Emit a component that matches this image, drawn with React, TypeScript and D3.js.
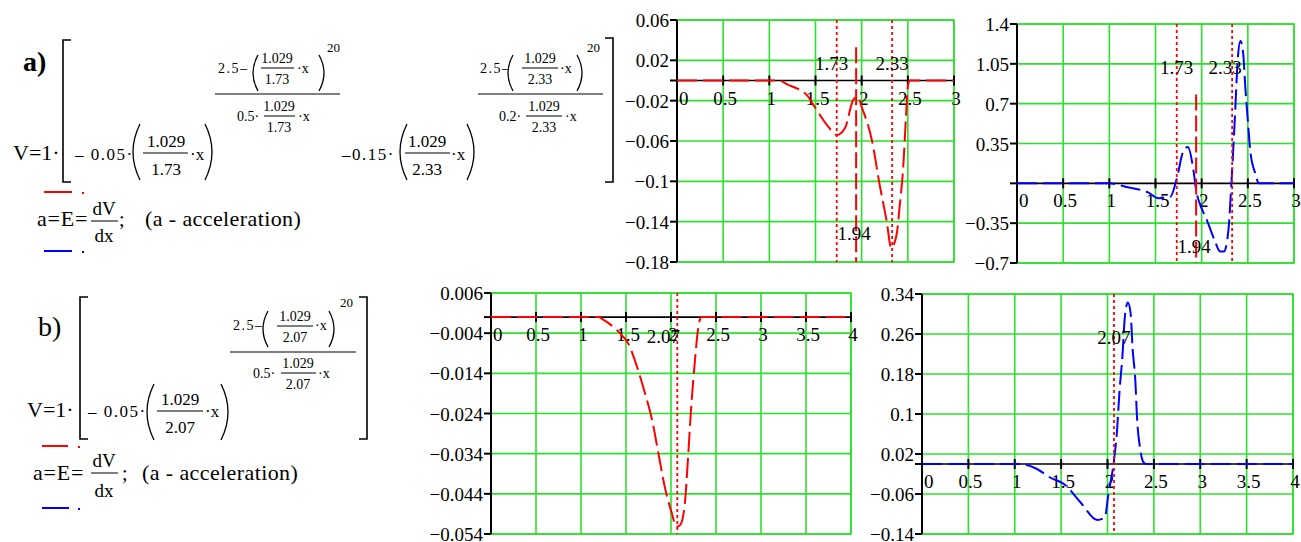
import React from "react";
import * as d3 from "d3";

const SERIF = "'Liberation Serif', 'Times New Roman', serif";
const GRID = "#2de02d";

// x ticks of the two chart widths
const xTicksA = [0, 0.5, 1, 1.5, 2, 2.5, 3];
const xTicksB = [0, 0.5, 1, 1.5, 2, 2.5, 3, 3.5, 4];

// y ticks (labelled gridlines) for each chart
const yTicksVelA = [0.06, 0.02, -0.02, -0.06, -0.1, -0.14, -0.18];
const yTicksAccA = [1.4, 1.05, 0.7, 0.35, -0.35, -0.7];
const yTicksVelB = [0.006, -0.004, -0.014, -0.024, -0.034, -0.044, -0.054];
const yTicksAccB = [0.34, 0.26, 0.18, 0.1, 0.02, -0.06, -0.14];

// traces, [x, value]
const velocityA = [
  [0, 0], [1.1, 0], [1.2, -0.004], [1.42, -0.016], [1.49, -0.026], [1.64, -0.046],
  [1.73, -0.054], [1.82, -0.047], [1.91, -0.019], [1.96, -0.016], [2.0, -0.026],
  [2.11, -0.059], [2.2, -0.106], [2.27, -0.139], [2.32, -0.166], [2.38, -0.152],
  [2.41, -0.126], [2.45, -0.086], [2.48, -0.036], [2.5, -0.006], [2.52, 0], [3, 0],
];
const accelA = [
  [0, 0], [1.0, 0], [1.2, -0.035], [1.42, -0.08], [1.53, -0.13], [1.66, -0.12],
  [1.73, 0.04], [1.8, 0.28], [1.85, 0.32], [1.91, 0.12], [1.94, -0.06], [1.99, -0.2],
  [2.05, -0.31], [2.14, -0.5], [2.2, -0.6], [2.24, -0.6], [2.29, -0.41], [2.32, -0.03],
  [2.36, 0.58], [2.39, 1.08], [2.42, 1.25], [2.45, 1.14], [2.47, 0.88], [2.5, 0.55],
  [2.53, 0.26], [2.58, 0.09], [2.62, 0], [3, 0],
];
const velocityB = [
  [0, 0], [1.2, 0], [1.23, -0.0004], [1.41, -0.0035], [1.53, -0.0068], [1.62, -0.0122],
  [1.71, -0.0189], [1.79, -0.0256], [1.86, -0.0339], [1.93, -0.0422], [2.01, -0.0489],
  [2.06, -0.0522], [2.1, -0.0518], [2.15, -0.0472], [2.19, -0.0348], [2.22, -0.0239],
  [2.27, -0.0098], [2.3, -0.0031], [2.34, 0], [4, 0],
];
const accelB = [
  [0, 0], [1.05, 0], [1.24, -0.01], [1.38, -0.027], [1.53, -0.04], [1.71, -0.077],
  [1.89, -0.112], [1.97, -0.107], [2.01, -0.06], [2.07, 0.007], [2.1, 0.06],
  [2.13, 0.147], [2.16, 0.213], [2.19, 0.3], [2.22, 0.323], [2.25, 0.3], [2.27, 0.233],
  [2.3, 0.167], [2.32, 0.087], [2.35, 0.033], [2.39, 0.003], [2.42, 0], [4, 0],
];

// vertical markers
const markersA = [1.73, 2.33];
const markersB = [2.07];
const crossA = 1.94;
const crossTopVelA = 0.033;
const crossTopAccA = 0.78;

const fmt = (v: number) => String(v).replace("-", "\u2212");

type Box = { left: number; right: number; top: number; bottom: number };

function Plot(props: {
  box: Box;
  xMax: number;
  yDomain: [number, number];
  xTicks: number[];
  yTicks: number[];
  trace: number[][];
  color: string;
  markers: number[];
  markerDx: number[];
  cross?: number;
  crossTop?: number;
  crossLabelY?: number;
}) {
  const { box, xMax, yDomain, xTicks, yTicks, trace, color, markers, markerDx } = props;
  const x = d3.scaleLinear().domain([0, xMax]).range([box.left, box.right]);
  const y = d3.scaleLinear().domain(yDomain).range([box.bottom, box.top]);
  const line = d3
    .line<number[]>()
    .x((d) => x(d[0]))
    .y((d) => y(d[1]))
    .curve(d3.curveMonotoneX);
  const y0 = y(0);
  const inner = xTicks.filter((t) => t > 0);

  return (
    <g style={{ fontFamily: SERIF }} fontSize={19} fill="#000">
      {inner.map((t) => (
        <line key={"gx" + t} x1={x(t)} x2={x(t)} y1={box.top} y2={box.bottom} stroke={GRID} strokeWidth={1.6} />
      ))}
      {yTicks.map((t) => (
        <line key={"gy" + t} x1={box.left} x2={box.right} y1={y(t)} y2={y(t)} stroke={GRID} strokeWidth={1.6} />
      ))}
      <rect x={box.left} y={box.top} width={box.right - box.left} height={box.bottom - box.top} fill="none" stroke={GRID} strokeWidth={1.6} />

      <line x1={box.left} x2={box.left} y1={box.top} y2={box.bottom} stroke="#000" strokeWidth={2} />
      <line x1={box.left} x2={box.right} y1={y0} y2={y0} stroke="#000" strokeWidth={1.6} />
      {[...yTicks, 0].map((t) => (
        <line key={"ty" + t} x1={box.left - 7} x2={box.left} y1={y(t)} y2={y(t)} stroke="#000" strokeWidth={2} />
      ))}
      {inner.map((t) => (
        <line key={"tx" + t} x1={x(t)} x2={x(t)} y1={y0 - 5} y2={y0 + 5} stroke="#000" strokeWidth={2} />
      ))}

      {yTicks.map((t) => (
        <text key={"ly" + t} x={box.left - 8} y={y(t) + 7} textAnchor="end">{fmt(t)}</text>
      ))}
      {xTicks.map((t) => (
        <text key={"lx" + t} x={x(t) + 2} y={y0 + 24} textAnchor={t === 0 ? "start" : "middle"}>{fmt(t)}</text>
      ))}

      <path d={line(trace) || ""} fill="none" stroke={color} strokeWidth={2} strokeDasharray="20,6" />

      {markers.map((m, i) => (
        <g key={"m" + m}>
          <line x1={x(m)} x2={x(m)} y1={box.top} y2={box.bottom} stroke="#ff0000" strokeWidth={1.8} strokeDasharray="3,3" />
          <text x={x(m) + markerDx[i]} y={box.top + 50} textAnchor="middle">{String(m)}</text>
        </g>
      ))}
      {props.cross !== undefined && (
        <g>
          <line x1={x(props.cross)} x2={x(props.cross)} y1={y(props.crossTop || 0)} y2={box.bottom} stroke="#ff0000" strokeWidth={2} strokeDasharray="16,5" />
          <text x={x(props.cross) - 2} y={props.crossLabelY} textAnchor="middle">{String(props.cross)}</text>
        </g>
      )}
    </g>
  );
}

// ---- formula helpers ----
function Paren({ x, y1, y2, side, w = 7 }: { x: number; y1: number; y2: number; side: "l" | "r"; w?: number }) {
  // x is the outer-most point of the bulge
  const end = side === "l" ? x + w : x - w;
  const c = 2 * x - end;
  return <path d={`M${end},${y1} Q${c},${(y1 + y2) / 2} ${end},${y2}`} fill="none" stroke="#000" strokeWidth={1.3} />;
}

function Bracket({ x, y1, y2, dir }: { x: number; y1: number; y2: number; dir: number }) {
  return <path d={`M${x + 8 * dir},${y1} H${x} V${y2} H${x + 8 * dir}`} fill="none" stroke="#000" strokeWidth={1.6} />;
}

function Frac({ cx, bar, x1, x2, num, den, size }: { cx: number; bar: number; x1: number; x2: number; num: string; den: string; size: number }) {
  const up = size > 15 ? 6 : 5;
  const down = size > 15 ? 22 : 16;
  return (
    <g fontSize={size}>
      <text x={cx} y={bar - up} textAnchor="middle">{num}</text>
      <line x1={x1} x2={x2} y1={bar} y2={bar} stroke="#000" strokeWidth={1} />
      <text x={cx} y={bar + down} textAnchor="middle">{den}</text>
    </g>
  );
}

function Accel({ x0, base, dVy, barY, dxy, semiX, textX }: { x0: number; base: number; dVy: number; barY: number; dxy: number; semiX: number; textX: number }) {
  return (
    <g>
      <text x={x0} y={base} fontSize={22} letterSpacing={0.8}>a=E=</text>
      <text x={104} y={dVy} fontSize={19} textAnchor="middle">dV</text>
      <line x1={91} x2={118} y1={barY} y2={barY} stroke="#000" strokeWidth={1} />
      <text x={104} y={dxy} fontSize={19} textAnchor="middle">dx</text>
      <text x={semiX} y={base} fontSize={20}>;</text>
      <text x={textX} y={base} fontSize={22} letterSpacing={0.4}>(a - acceleration)</text>
    </g>
  );
}

function FormulaA() {
  return (
    <g style={{ fontFamily: SERIF }} fill="#000">
      <text x={23} y={71} fontSize={28} fontWeight="bold">a)</text>
      <Bracket x={63} y1={40} y2={182} dir={1} />
      <Bracket x={613} y1={38} y2={182} dir={-1} />
      <text x={13} y={160} fontSize={22}>V=1·</text>

      <text x={75} y={160} fontSize={17} letterSpacing={1.5}>– 0.05·</text>
      <Paren x={133} y1={124} y2={180} side="l" />
      <Frac cx={166} bar={153} x1={143} x2={188} num="1.029" den="1.73" size={17} />
      <text x={190} y={160} fontSize={17}>·x</text>
      <Paren x={212} y1={124} y2={180} side="r" />

      <g fontSize={14}>
        <text x={218} y={73} letterSpacing={1.5}>2.5–</text>
        <Paren x={253} y1={55} y2={91} side="l" w={5} />
        <Frac cx={277} bar={68} x1={261} x2={294} num="1.029" den="1.73" size={14} />
        <text x={297} y={73}>·x</text>
        <Paren x={324} y1={55} y2={91} side="r" w={5} />
        <text x={327} y={52} fontSize={13}>20</text>
        <line x1={215} x2={340} y1={94} y2={94} stroke="#000" strokeWidth={1} />
        <text x={237} y={121}>0.5·</text>
        <Frac cx={279} bar={116} x1={264} x2={295} num="1.029" den="1.73" size={14} />
        <text x={298} y={121}>·x</text>
      </g>

      <text x={342} y={160} fontSize={17} letterSpacing={1.5}>–0.15·</text>
      <Paren x={400} y1={124} y2={180} side="l" />
      <Frac cx={427} bar={153} x1={405} x2={450} num="1.029" den="2.33" size={17} />
      <text x={451} y={160} fontSize={17}>·x</text>
      <Paren x={474} y1={124} y2={180} side="r" />

      <g fontSize={14}>
        <text x={480} y={73} letterSpacing={1.5}>2.5–</text>
        <Paren x={508} y1={55} y2={91} side="l" w={5} />
        <Frac cx={540} bar={68} x1={522} x2={558} num="1.029" den="2.33" size={14} />
        <text x={560} y={73}>·x</text>
        <Paren x={582} y1={55} y2={91} side="r" w={5} />
        <text x={587} y={52} fontSize={13}>20</text>
        <line x1={478} x2={603} y1={94} y2={94} stroke="#000" strokeWidth={1} />
        <text x={499} y={121}>0.2·</text>
        <Frac cx={544} bar={116} x1={526} x2={562} num="1.029" den="2.33" size={14} />
        <text x={565} y={121}>·x</text>
      </g>

      <line x1={44} x2={72} y1={192} y2={192} stroke="#ff0000" strokeWidth={2} />
      <rect x={82} y={192} width={2} height={2} fill="#ff0000" />
      <Accel x0={37} base={226} dVy={215} barY={221} dxy={242} semiX={119} textX={145} />
      <line x1={44} x2={72} y1={251} y2={251} stroke="#0000ff" strokeWidth={2} />
      <rect x={82} y={251} width={2} height={2} fill="#0000ff" />
    </g>
  );
}

function FormulaB() {
  return (
    <g style={{ fontFamily: SERIF }} fill="#000">
      <text x={38} y={336} fontSize={28}>b)</text>
      <Bracket x={80} y1={297} y2={439} dir={1} />
      <Bracket x={367} y1={297} y2={439} dir={-1} />
      <text x={27} y={417} fontSize={22}>V=1·</text>

      <text x={88} y={417} fontSize={17} letterSpacing={1.5}>– 0.05·</text>
      <Paren x={147} y1={384} y2={440} side="l" />
      <Frac cx={180} bar={411} x1={157} x2={203} num="1.029" den="2.07" size={17} />
      <text x={205} y={417} fontSize={17}>·x</text>
      <Paren x={228} y1={384} y2={440} side="r" />

      <g fontSize={14}>
        <text x={233} y={330} letterSpacing={1.5}>2.5–</text>
        <Paren x={263} y1={311} y2={347} side="l" w={5} />
        <Frac cx={295} bar={326} x1={277} x2={313} num="1.029" den="2.07" size={14} />
        <text x={315} y={330}>·x</text>
        <Paren x={334} y1={311} y2={347} side="r" w={5} />
        <text x={340} y={307} fontSize={13}>20</text>
        <line x1={230} x2={356} y1={352} y2={352} stroke="#000" strokeWidth={1} />
        <text x={253} y={378}>0.5·</text>
        <Frac cx={298} bar={373} x1={281} x2={316} num="1.029" den="2.07" size={14} />
        <text x={318} y={378}>·x</text>
      </g>

      <line x1={42} x2={68} y1={446} y2={446} stroke="#ff0000" strokeWidth={2} />
      <rect x={78} y={446} width={2} height={2} fill="#ff0000" />
      <Accel x0={33} base={480} dVy={467} barY={473} dxy={497} semiX={122} textX={142} />
      <line x1={42} x2={69} y1={508} y2={508} stroke="#0000ff" strokeWidth={2} />
      <rect x={78} y={508} width={2} height={2} fill="#0000ff" />
    </g>
  );
}

export default function App() {
  return (
    <svg
      width={1301}
      height={542}
      style={{ position: "absolute", left: 0, top: 0, background: "#fff", fontFamily: SERIF }}
    >
      <rect width={1301} height={542} fill="#fff" />
      <FormulaA />
      <FormulaB />
      <Plot
        box={{ left: 677, right: 954, top: 20, bottom: 262 }}
        xMax={3}
        yDomain={[-0.18, 0.06]}
        xTicks={xTicksA}
        yTicks={yTicksVelA}
        trace={velocityA}
        color="#ff0000"
        markers={markersA}
        markerDx={[-5, 0]}
        cross={crossA}
        crossTop={crossTopVelA}
        crossLabelY={240}
      />
      <Plot
        box={{ left: 1017, right: 1294, top: 24, bottom: 263 }}
        xMax={3}
        yDomain={[-0.7, 1.4]}
        xTicks={xTicksA}
        yTicks={yTicksAccA}
        trace={accelA}
        color="#0000ff"
        markers={markersA}
        markerDx={[0, -7]}
        cross={crossA}
        crossTop={crossTopAccA}
        crossLabelY={253}
      />
      <Plot
        box={{ left: 491, right: 851, top: 293, bottom: 534 }}
        xMax={4}
        yDomain={[-0.054, 0.006]}
        xTicks={xTicksB}
        yTicks={yTicksVelB}
        trace={velocityB}
        color="#ff0000"
        markers={markersB}
        markerDx={[-14]}
      />
      <Plot
        box={{ left: 922, right: 1293, top: 294, bottom: 534 }}
        xMax={4}
        yDomain={[-0.14, 0.34]}
        xTicks={xTicksB}
        yTicks={yTicksAccB}
        trace={accelB}
        color="#0000ff"
        markers={markersB}
        markerDx={[0]}
      />
    </svg>
  );
}
